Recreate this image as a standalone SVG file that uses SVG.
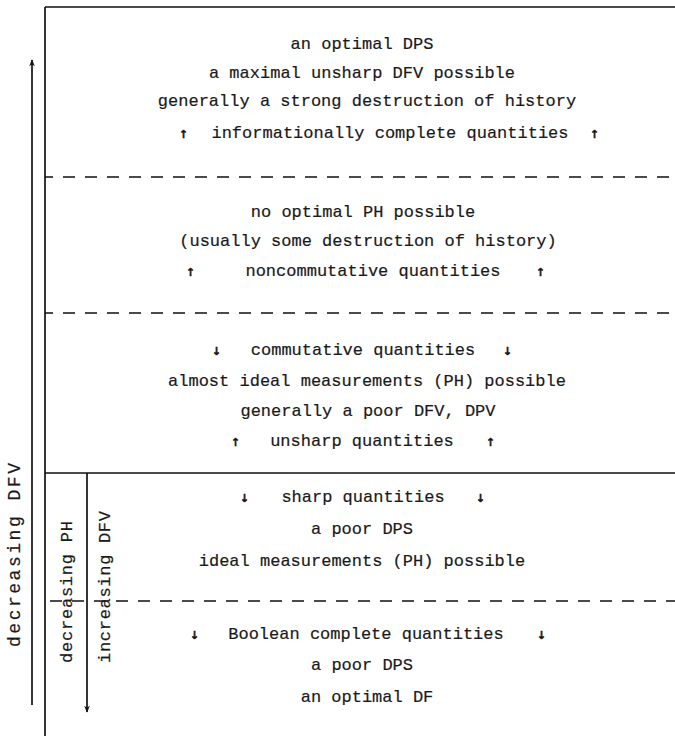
<svg xmlns="http://www.w3.org/2000/svg" width="675" height="736" viewBox="0 0 675 736">
<style>
  .t { font-family: "Liberation Mono", "DejaVu Sans Mono", monospace; font-size: 17px; fill: #1a1a1a; stroke: #1a1a1a; stroke-width: 0.2; text-anchor: middle; }
  .a { font-family: "DejaVu Sans Mono", "Liberation Mono", monospace; font-size: 15px; fill: #111; stroke: #111; stroke-width: 0.5; text-anchor: middle; font-variant-emoji: text; }
  .s { stroke: #111; stroke-width: 1.7; fill: none; }
  .d { stroke: #111; stroke-width: 1.7; fill: none; stroke-dasharray: 12 10; }
</style>
<defs>
  <marker id="ah" viewBox="0 0 10 10" refX="9" refY="5" markerWidth="7" markerHeight="7" orient="auto" markerUnits="userSpaceOnUse">
    <path d="M0,1 L10,5 L0,9 L3,5 Z" fill="#111"/>
  </marker>
</defs>
<rect width="675" height="736" fill="#fff"/>
<g id="connectors">
  <line class="s" x1="45" y1="7" x2="675" y2="7"/>
  <line class="s" x1="45" y1="7" x2="45" y2="736"/>
  <line class="d" x1="45" y1="177" x2="675" y2="177" stroke-dashoffset="4"/>
  <line class="d" x1="45" y1="313" x2="675" y2="313" stroke-dashoffset="4"/>
  <line class="s" x1="45" y1="473" x2="675" y2="473"/>
  <line class="d" x1="50" y1="601" x2="675" y2="601"/>
  <line class="s" x1="32" y1="705" x2="32" y2="60" marker-end="url(#ah)"/>
  <line class="s" x1="87" y1="473" x2="87" y2="712" marker-end="url(#ah)"/>
</g>
<g id="label-decreasing-dfv">
  <text class="t" style="font-size:18px" transform="translate(20,555) rotate(-90)" textLength="184" lengthAdjust="spacing">decreasing DFV</text>
</g>
<g id="label-decreasing-ph">
  <text class="t" transform="translate(72,592) rotate(-90)" textLength="142" lengthAdjust="spacing">decreasing PH</text>
</g>
<g id="label-increasing-dfv">
  <text class="t" transform="translate(110,587) rotate(-90)" textLength="152" lengthAdjust="spacing">increasing DFV</text>
</g>
<g id="section-1">
  <text class="t" x="362" y="49">an optimal DPS</text>
  <text class="t" x="362" y="78">a maximal unsharp DFV possible</text>
  <text class="t" x="367" y="106">generally a strong destruction of history</text>
  <text class="a" x="183.5" y="138">↑</text>
  <text class="t" x="390" y="138">informationally complete quantities</text>
  <text class="a" x="594.5" y="138">↑</text>
</g>
<g id="section-2">
  <text class="t" x="363" y="217">no optimal PH possible</text>
  <text class="t" x="368" y="246">(usually some destruction of history)</text>
  <text class="a" x="190.5" y="276">↑</text>
  <text class="t" x="373" y="276">noncommutative quantities</text>
  <text class="a" x="540.5" y="276">↑</text>
</g>
<g id="section-3">
  <text class="a" x="216.5" y="355">↓</text>
  <text class="t" x="363" y="355">commutative quantities</text>
  <text class="a" x="507.5" y="355">↓</text>
  <text class="t" x="367" y="386">almost ideal measurements (PH) possible</text>
  <text class="t" x="368" y="416">generally a poor DFV, DPV</text>
  <text class="a" x="235.5" y="446">↑</text>
  <text class="t" x="362" y="446">unsharp quantities</text>
  <text class="a" x="490.5" y="446">↑</text>
</g>
<g id="section-4">
  <text class="a" x="244.5" y="502">↓</text>
  <text class="t" x="363" y="502">sharp quantities</text>
  <text class="a" x="480.5" y="502">↓</text>
  <text class="t" x="362" y="534">a poor DPS</text>
  <text class="t" x="362" y="566">ideal measurements (PH) possible</text>
</g>
<g id="section-5">
  <text class="a" x="194.5" y="639">↓</text>
  <text class="t" x="366" y="639">Boolean complete quantities</text>
  <text class="a" x="541.5" y="639">↓</text>
  <text class="t" x="362" y="670">a poor DPS</text>
  <text class="t" x="367" y="702">an optimal DF</text>
</g>
</svg>
